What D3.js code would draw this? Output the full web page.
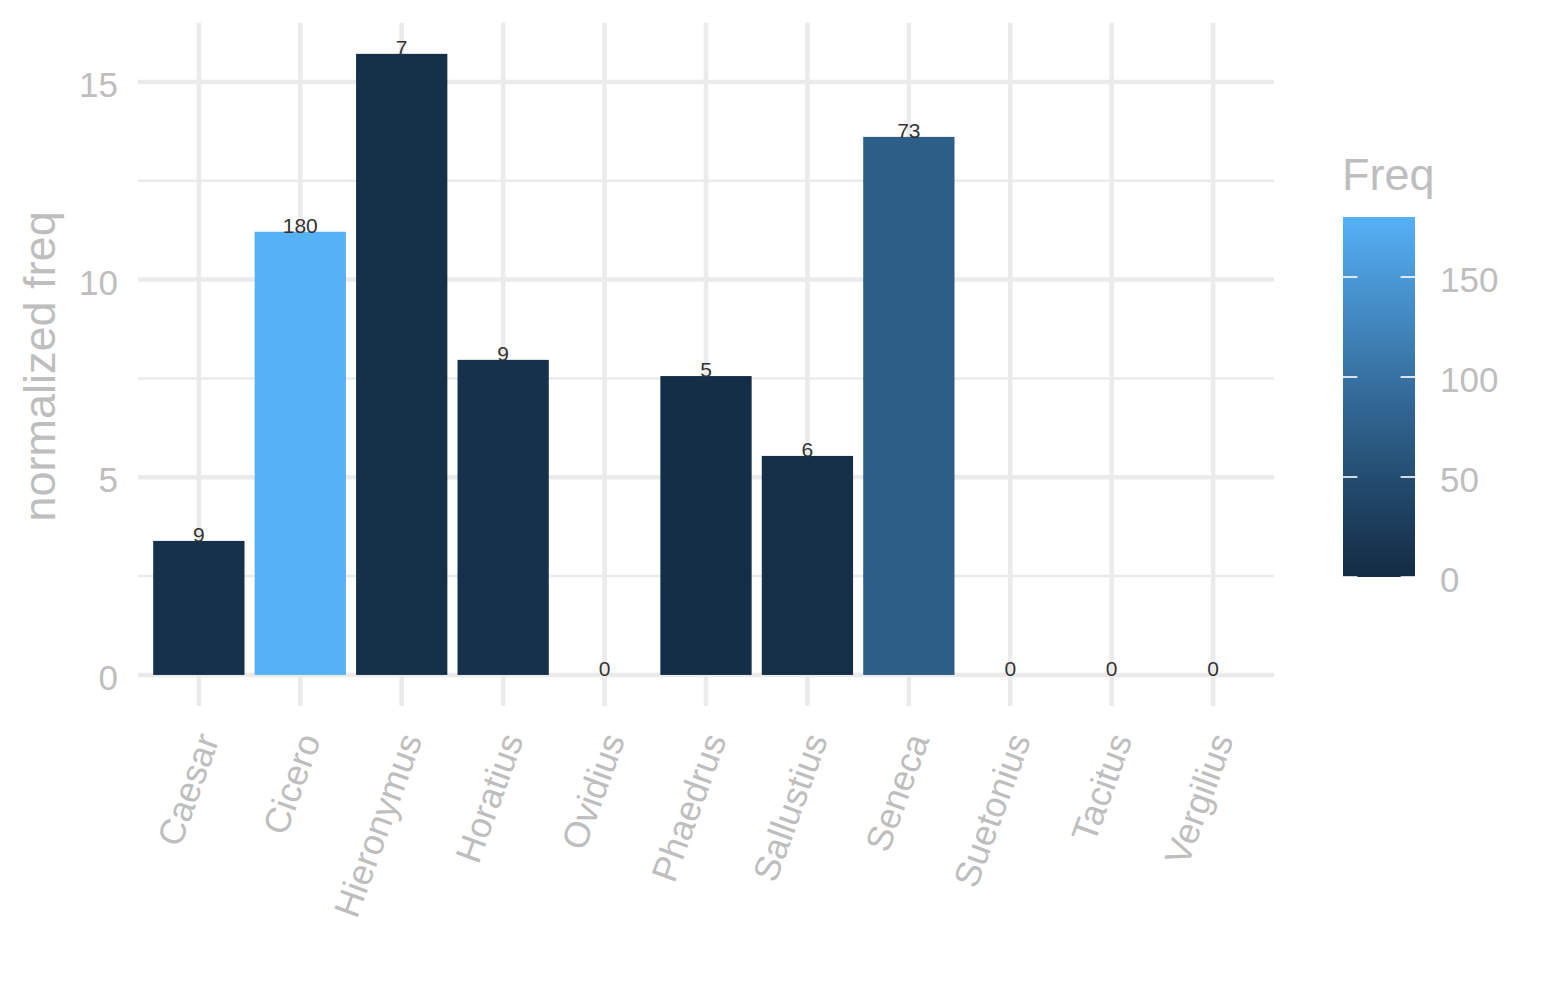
<!DOCTYPE html>
<html lang="en">
<head>
    <meta charset="UTF-8">
    <title>normalized freq</title>
    <script src="https://cdn.jsdelivr.net/npm/d3@7"></script>
    <style>
        body { margin: 0; background: white; }
        text { font-family: "Liberation Sans", Arial, Helvetica, sans-serif; }
    </style>
</head>
<body>
    <div id="chart"></div>
    <script>
        // data
        const authors = ["Caesar", "Cicero", "Hieronymus", "Horatius", "Ovidius", "Phaedrus",
                         "Sallustius", "Seneca", "Suetonius", "Tacitus", "Vergilius"];
        const normFreq = [3.39, 11.21, 15.71, 7.97, 0, 7.56, 5.54, 13.61, 0, 0, 0];
        const freq = [9, 180, 7, 9, 0, 5, 6, 73, 0, 0, 0];
        const yTicks = [0, 5, 10, 15];
        const yMinor = [2.5, 7.5, 12.5];
        const legendTicks = [0, 50, 100, 150];

        const width = 1545, height = 1000;
        const panel = { left: 138, right: 1274, top: 22.8, bottom: 706 };
        const grey = "#BEBEBE", gridCol = "#EBEBEB";

        const data = authors.map((a, i) => ({ author: a, value: normFreq[i], freq: freq[i] }));

        const svg = d3.select("#chart").append("svg")
            .attr("width", width)
            .attr("height", height);

        const x = d3.scaleBand()
            .domain(authors)
            .range([panel.left, panel.right])
            .paddingInner(0.1)
            .paddingOuter(0.15);

        // ggplot style 5% expansion
        const yMax = d3.max(normFreq);
        const y = d3.scaleLinear()
            .domain([-0.05 * yMax, yMax * 1.05])
            .range([panel.bottom, panel.top]);

        const fill = d3.scaleLinear()
            .domain([0, d3.max(freq)])
            .range(["#132B43", "#56B1F7"])
            .interpolate(d3.interpolateLab);

        // grid
        const grid = svg.append("g");
        grid.selectAll(".minor").data(yMinor).join("line")
            .attr("x1", panel.left).attr("x2", panel.right)
            .attr("y1", d => y(d)).attr("y2", d => y(d))
            .attr("stroke", gridCol).attr("stroke-width", 2.5);
        grid.selectAll(".major").data(yTicks).join("line")
            .attr("x1", panel.left).attr("x2", panel.right)
            .attr("y1", d => y(d)).attr("y2", d => y(d))
            .attr("stroke", gridCol).attr("stroke-width", 4.5);
        grid.selectAll(".vert").data(authors).join("line")
            .attr("x1", d => x(d) + x.bandwidth() / 2).attr("x2", d => x(d) + x.bandwidth() / 2)
            .attr("y1", panel.top).attr("y2", panel.bottom)
            .attr("stroke", gridCol).attr("stroke-width", 4.5);

        // bars
        svg.selectAll("rect.bar").data(data).join("rect")
            .attr("class", "bar")
            .attr("x", d => x(d.author))
            .attr("width", x.bandwidth())
            .attr("y", d => y(d.value))
            .attr("height", d => y(0) - y(d.value))
            .attr("fill", d => fill(d.freq));

        // labels on bars
        svg.selectAll("text.lab").data(data).join("text")
            .attr("class", "lab")
            .attr("x", d => x(d.author) + x.bandwidth() / 2)
            .attr("y", d => y(d.value) + 1)
            .attr("text-anchor", "middle")
            .attr("fill", "#333333")
            .style("font-size", "21px")
            .text(d => d.freq);

        // y axis
        const yAxis = svg.append("g")
            .attr("transform", `translate(118,0)`)
            .call(d3.axisLeft(y).tickValues(yTicks).tickSize(0).tickPadding(0));
        yAxis.select(".domain").remove();
        yAxis.selectAll("text")
            .attr("fill", grey)
            .attr("dy", "0.42em")
            .style("font-size", "35px");

        // x axis
        const xAxis = svg.append("g")
            .attr("transform", `translate(0,${panel.bottom})`)
            .call(d3.axisBottom(x).tickSize(0).tickPadding(0));
        xAxis.select(".domain").remove();
        xAxis.selectAll("text")
            .attr("fill", grey)
            .style("font-size", "36px")
            .attr("text-anchor", "end")
            .attr("y", 0)
            .attr("dy", "0.35em")
            .attr("transform", "translate(9,29) rotate(-70)");

        // axis title
        svg.append("text")
            .attr("transform", `translate(55,${(panel.top + panel.bottom) / 2 + 2}) rotate(-90)`)
            .attr("text-anchor", "middle")
            .attr("fill", grey)
            .style("font-size", "45px")
            .text("normalized freq");

        // legend
        const leg = { x: 1343, w: 72, top: 217, bottom: 577 };
        const legY = d3.scaleLinear().domain([0, d3.max(freq)]).range([leg.bottom, leg.top]);

        const grad = svg.append("defs").append("linearGradient")
            .attr("id", "freqGrad")
            .attr("x1", 0).attr("y1", 1).attr("x2", 0).attr("y2", 0);
        d3.range(0, 1.0001, 0.1).forEach(t => {
            grad.append("stop")
                .attr("offset", t)
                .attr("stop-color", fill(t * d3.max(freq)));
        });

        svg.append("text")
            .attr("x", 1342)
            .attr("y", 190)
            .attr("fill", grey)
            .style("font-size", "45px")
            .text("Freq");

        svg.append("rect")
            .attr("x", leg.x).attr("y", leg.top)
            .attr("width", leg.w).attr("height", leg.bottom - leg.top)
            .attr("fill", "url(#freqGrad)");

        const tickLen = leg.w / 5;
        svg.selectAll(".ltickL").data(legendTicks).join("line")
            .attr("x1", leg.x).attr("x2", leg.x + tickLen)
            .attr("y1", d => legY(d)).attr("y2", d => legY(d))
            .attr("stroke", "white").attr("stroke-width", 1.6);
        svg.selectAll(".ltickR").data(legendTicks).join("line")
            .attr("x1", leg.x + leg.w - tickLen).attr("x2", leg.x + leg.w)
            .attr("y1", d => legY(d)).attr("y2", d => legY(d))
            .attr("stroke", "white").attr("stroke-width", 1.6);

        svg.selectAll(".llab").data(legendTicks).join("text")
            .attr("x", 1440)
            .attr("y", d => legY(d))
            .attr("dy", "0.42em")
            .attr("fill", grey)
            .style("font-size", "35px")
            .text(d => d);
    </script>
</body>
</html>
